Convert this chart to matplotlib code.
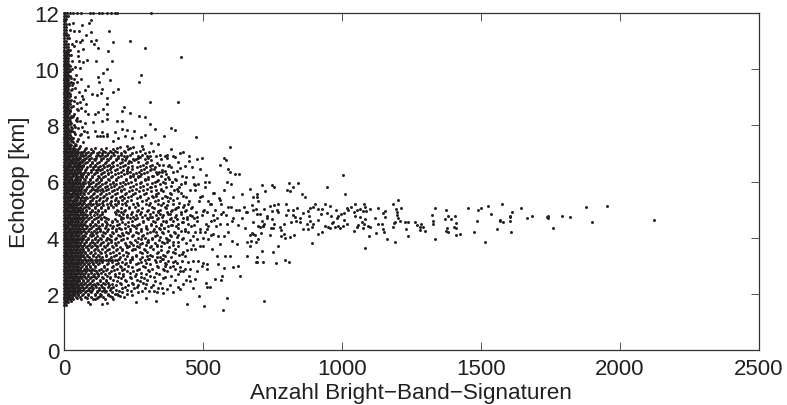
"""Echotop gegen Anzahl der Bright-Band-Signaturen (Streudiagramm)."""

import matplotlib

matplotlib.use("Agg")
import matplotlib.pyplot as plt

plt.rcParams["font.family"] = ["Liberation Sans", "DejaVu Sans"]

# Punkte ausserhalb der dichten Wolke: (Anzahl, Echotop)
tail_points = [
    (2124, 4.64), (1954, 5.14), (1900, 4.55), (1878, 5.09), (1822, 4.74), (1792, 4.78), (1760, 4.33),
    (1742, 4.78), (1738, 4.72), (1742, 4.69), (1684, 4.78), (1668, 4.69), (1646, 5.05), (1613, 4.9),
    (1604, 4.78), (1606, 4.72), (1605, 4.58), (1610, 4.19), (1580, 4.55), (1578, 5.19), (1570, 4.6),
    (1537, 4.83), (1568, 4.64), (1559, 4.3), (1526, 5.14), (1502, 5.04), (1490, 5.0), (1454, 5.04),
    (1487, 4.59), (1477, 4.19), (1514, 3.85), (1424, 4.14), (1411, 4.08), (1408, 4.78), (1384, 4.78),
    (1375, 5.0), (1394, 4.67), (1372, 4.65), (1410, 4.53), (1405, 4.39), (1410, 4.33), (1378, 4.36),
    (1376, 4.24), (1384, 4.19), (1335, 5.04), (1326, 4.8), (1330, 4.61), (1330, 4.49), (1335, 3.94),
    (1300, 4.24), (1294, 4.38), (1286, 4.5), (1282, 4.37), (1280, 4.29), (1270, 4.45), (1264, 4.55),
    (1238, 4.57), (1228, 4.55), (1231, 4.3), (1238, 4.05), (1210, 4.59), (1201, 5.34), (1186, 5.19),
    (1212, 5.04), (1196, 5.02), (1198, 4.9), (1200, 4.81), (1202, 4.69), (1192, 4.57), (1189, 4.52),
    (1184, 4.39), (1191, 3.85), (1162, 3.94), (1156, 4.95), (1148, 4.88), (1156, 4.74), (1144, 4.5),
    (1130, 4.5), (1147, 4.31), (1153, 4.19), (1120, 4.69), (1130, 5.04), (1103, 5.02), (1088, 4.96),
    (1081, 5.2), (1084, 5.1), (1078, 4.95), (1084, 4.67), (1072, 4.55), (1081, 4.49), (1096, 4.43),
    (1102, 4.39), (1123, 4.17), (1097, 4.05), (1084, 3.64), (1075, 4.36), (1060, 4.45), (1054, 4.37),
    (1043, 4.24), (1064, 4.74), (1065, 5.01), (1054, 5.0), (1046, 5.19), (1034, 5.09), (1045, 4.9),
    (1046, 4.78), (1018, 5.04), (1024, 4.99), (1010, 5.54), (1006, 6.24), (1009, 4.87), (998, 4.83),
    (979, 5.0), (988, 4.78), (982, 4.69), (1007, 4.64), (1018, 4.5), (1004, 4.43), (994, 4.34),
    (985, 4.42), (976, 4.37), (970, 4.55), (964, 4.51), (961, 4.78), (946, 4.88), (958, 5.14),
    (940, 5.19), (947, 5.79), (927, 5.02), (916, 5.02), (925, 4.84), (916, 4.64), (940, 4.43),
    (952, 4.37), (958, 4.33), (928, 4.19), (916, 4.14), (902, 5.19), (896, 5.1), (884, 5.04),
    (880, 4.96), (862, 4.88), (883, 4.78), (886, 4.59), (874, 4.49), (898, 4.49), (892, 4.37),
    (880, 4.31), (862, 4.31), (892, 3.8), (869, 5.44), (855, 5.54), (842, 5.95), (826, 5.79),
    (814, 5.65), (809, 5.95), (802, 5.7), (800, 5.19), (838, 5.04), (824, 5.0), (808, 5.0),
    (798, 4.81), (826, 4.81), (832, 4.72), (848, 4.69), (850, 4.55), (834, 4.61), (816, 4.57),
    (792, 4.49), (778, 4.37), (780, 4.29), (792, 4.13), (797, 4.0), (812, 4.04), (828, 4.1),
    (782, 4.05), (771, 3.69), (770, 5.19), (756, 5.16), (742, 5.14), (766, 5.0), (770, 4.9),
    (748, 4.95), (720, 5.02), (732, 4.78), (748, 4.67), (730, 4.69), (712, 4.58), (720, 4.49),
    (756, 4.49), (744, 4.34), (754, 4.34), (740, 4.08), (716, 4.43), (700, 4.43), (706, 4.37),
    (718, 4.4), (696, 4.84), (692, 5.02), (706, 4.84), (680, 5.0), (682, 4.55), (756, 5.79),
    (747, 5.89), (712, 5.89), (722, 5.65), (670, 5.73), (694, 5.54), (696, 5.46), (698, 5.29),
    (680, 5.44), (676, 5.16), (670, 4.1), (682, 4.13), (676, 4.17), (688, 4.08), (708, 4.15),
    (699, 3.94), (692, 3.86), (674, 3.89), (670, 3.69), (714, 3.51), (752, 3.49), (694, 3.3),
    (692, 3.15), (718, 3.15), (764, 3.09), (794, 3.19), (810, 3.15), (720, 1.73),
]

# Oberer Bereich und Ausreisser: (Anzahl, Echotop)
upper_points = [
    (10, 12), (22, 12), (34, 12), (48, 12), (61, 12), (94, 12), (103, 12), (126, 12), (136, 12),
    (154, 12), (168, 12), (184, 12), (190, 12), (313, 12), (98, 11.75), (91, 11.63), (66, 11.59),
    (31, 11.63), (54, 11.37), (36, 11.35), (163, 11.35), (79, 11.23), (96, 11.34), (239, 10.99),
    (293, 10.74), (421, 10.45), (175, 10.96), (115, 11.05), (98, 10.99), (108, 10.9), (124, 10.74),
    (160, 10.64), (64, 11.05), (58, 10.96), (43, 11.02), (70, 10.72), (52, 10.66), (36, 10.84),
    (174, 10.3), (115, 10.3), (84, 10.34), (70, 10.24), (52, 10.46), (55, 10.3), (40, 10.07),
    (58, 10.04), (154, 10.0), (139, 9.86), (124, 9.71), (125, 9.56), (166, 9.6), (276, 9.79),
    (269, 9.54), (196, 9.3), (175, 9.2), (136, 9.3), (88, 9.39), (76, 9.27), (100, 9.12), (118, 9.09),
    (132, 9.15), (154, 8.96), (64, 9.06), (70, 8.94), (61, 9.65), (48, 9.53), (36, 9.65), (28, 9.44),
    (40, 9.32), (58, 8.82), (79, 8.76), (46, 8.58), (76, 8.52), (88, 8.4), (48, 8.25), (154, 8.76),
    (142, 8.58), (156, 8.4), (124, 8.46), (112, 8.4), (215, 8.64), (210, 8.5), (238, 8.43), (311, 8.84),
    (411, 8.84), (271, 8.35), (290, 8.29), (210, 8.17), (190, 8.14), (156, 8.23), (136, 8.17),
    (106, 8.11), (76, 8.08), (58, 8.17), (40, 7.93), (84, 7.75), (112, 7.81), (136, 7.78), (154, 7.69),
    (184, 7.75), (208, 7.87), (228, 7.85), (253, 7.79), (309, 8.04), (327, 7.87), (385, 7.89), (401, 7.83),
    (474, 7.6), (360, 7.61), (293, 7.66), (276, 7.59), (244, 7.54), (220, 7.63), (196, 7.54), (178, 7.45),
    (130, 7.61), (118, 7.61), (142, 7.61), (156, 7.61), (596, 7.24), (384, 7.16), (340, 7.34), (312, 7.37),
    (280, 7.28), (250, 7.22), (226, 7.28), (430, 7.04), (449, 6.9), (495, 6.83), (480, 6.8), (576, 6.85),
    (584, 6.75), (560, 6.6), (592, 6.45), (598, 6.35), (617, 6.26), (629, 6.26), (510, 6.24), (490, 6.45),
    (460, 6.53), (437, 6.54), (418, 6.47), (451, 6.74), (400, 6.86), (358, 6.59), (342, 6.6), (328, 6.51),
    (394, 6.92), (370, 6.95), (343, 6.35), (331, 6.35), (312, 6.45), (394, 6.33), (406, 6.38), (364, 6.36),
    (310, 6.92), (298, 6.9), (274, 6.86), (268, 6.68), (250, 6.8), (235, 6.74), (216, 6.92), (202, 7.22),
    (184, 7.1), (244, 6.45), (226, 6.39), (247, 6.21), (274, 6.21), (304, 6.09), (316, 6.21), (334, 6.03),
    (358, 5.97), (388, 5.99), (400, 6.09), (440, 6.15), (466, 6.15), (472, 5.89), (484, 5.91), (508, 6.0),
    (523, 6.0), (586, 6.0),
]

# Unterer und mittlerer Bereich: (Anzahl, Echotop)
lower_points = [
    (574, 1.44), (504, 1.58), (444, 1.64), (588, 1.84), (486, 1.94), (331, 1.76), (295, 1.84), (258, 1.72),
    (94, 1.64), (136, 1.64), (154, 1.67), (524, 2.24), (514, 2.24), (510, 2.39), (466, 2.2), (418, 2.17),
    (394, 2.08), (358, 2.03), (334, 2.05), (370, 2.17), (352, 2.2), (324, 2.11), (280, 2.11), (268, 2.05),
    (244, 1.96), (202, 1.93), (190, 1.99), (166, 1.91), (130, 1.93), (112, 1.82), (430, 2.35), (412, 2.23),
    (472, 2.53), (454, 2.47), (450, 2.62), (544, 2.53), (568, 2.65), (564, 2.5), (632, 2.62), (610, 2.94),
    (628, 2.98), (576, 2.91), (556, 3.06), (598, 3.34), (580, 3.34), (550, 3.34), (532, 3.6), (514, 2.89),
    (516, 3.06), (502, 3.1), (484, 3.18), (464, 3.18), (448, 3.15), (424, 3.18), (436, 3.34), (442, 3.56),
    (456, 3.6), (424, 3.42), (400, 3.18), (436, 2.89), (418, 2.83), (400, 2.89), (382, 2.94), (364, 2.98),
    (346, 3.18), (334, 3.3), (316, 3.34), (304, 3.24), (394, 3.48), (376, 3.54), (358, 3.24), (376, 3.18),
    (274, 3.24), (244, 3.24), (220, 3.24), (658, 3.34), (694, 3.15), (658, 3.86), (622, 3.78), (604, 3.89),
    (562, 3.78), (556, 4.07), (520, 3.95), (538, 4.13), (514, 4.31), (490, 4.19), (466, 4.07), (448, 4.19),
    (424, 3.95), (406, 4.01), (394, 3.84), (370, 3.84), (346, 4.01), (334, 3.72), (298, 3.84), (274, 3.78),
    (250, 3.6), (226, 3.66), (358, 4.61), (382, 4.84), (400, 5.02), (424, 4.55), (442, 4.67), (460, 4.78),
    (480, 4.72), (500, 4.95), (520, 4.4), (540, 4.62), (565, 4.85), (585, 4.5), (610, 4.7), (630, 5.0),
    (650, 4.35), (655, 4.9), (600, 5.1), (560, 5.35), (525, 5.2), (490, 5.45), (450, 5.3), (420, 5.6),
    (380, 5.4), (350, 5.7), (540, 5.6), (575, 5.7), (610, 5.45), (640, 5.55), (470, 5.7), (430, 5.1),
    (310, 5.8), (330, 5.5), (370, 5.15), (300, 4.3), (330, 4.2), (360, 4.35), (390, 4.45), (420, 4.25),
    (310, 4.75), (340, 4.9), (480, 3.95), (590, 4.2), (625, 4.45), (575, 4.05), (500, 3.7), (465, 3.75),
]

band_y = [
    1.6, 1.7, 1.8, 1.9, 2.0, 2.1, 2.2, 2.3, 2.4, 2.5, 2.6, 2.7, 2.8, 2.9, 3.0, 3.1, 3.2, 3.3, 3.4,
    3.5, 3.6, 3.7, 3.8, 3.9, 4.0, 4.1, 4.2, 4.3, 4.4, 4.5, 4.6, 4.7, 4.8, 4.9, 5.0, 5.1, 5.2, 5.3,
    5.4, 5.5, 5.6, 5.7, 5.8, 5.9, 6.0, 6.1, 6.2, 6.3, 6.4, 6.5, 6.6, 6.7, 6.8, 6.9, 7.0, 7.1, 7.2,
]
band_x = [
    [1, 7],
    [1, 8, 15, 88],
    [0, 7, 14, 22, 31, 62, 104, 148, 178],
    [1, 8, 15, 23, 30, 44, 57, 76, 96, 122, 141, 171, 215],
    [0, 7, 14, 22, 31, 38, 52, 68, 85, 110, 128, 160, 183, 226],
    [1, 9, 16, 24, 33, 41, 49, 60, 79, 93, 117, 136, 152, 197, 240, 305],
    [0, 7, 15, 23, 32, 40, 50, 58, 72, 89, 105, 126, 145, 170, 208, 252, 290, 340],
    [1, 8, 17, 26, 34, 43, 52, 66, 81, 99, 112, 134, 163, 186, 230, 268, 320, 380],
    [0, 9, 16, 25, 33, 42, 48, 61, 74, 92, 118, 141, 158, 201, 243, 285, 347],
    [1, 7, 18, 27, 35, 46, 55, 70, 85, 103, 129, 150, 178, 220, 262, 300, 398, 440],
    [0, 8, 16, 24, 34, 44, 51, 64, 77, 96, 110, 137, 166, 194, 238, 276, 325, 362],
    [1, 9, 17, 26, 36, 43, 57, 68, 88, 108, 124, 147, 184, 212, 258, 295, 342, 410],
    [0, 7, 15, 25, 32, 45, 53, 63, 80, 97, 116, 139, 170, 228, 248, 306, 372, 430, 478],
    [1, 8, 18, 27, 37, 47, 56, 71, 84, 101, 132, 155, 190, 216, 270, 318, 355, 452],
    [0, 9, 16, 23, 34, 41, 52, 66, 78, 94, 113, 143, 175, 203, 232, 284, 335, 392, 495],
    [1, 7, 17, 28, 38, 46, 58, 69, 90, 106, 127, 160, 196, 222, 266, 296, 365, 405],
    [0, 8, 15, 24, 33, 44, 54, 62, 70, 78, 86, 94, 102, 110, 118, 126, 134, 142, 150, 158, 166, 174, 182, 190, 236, 290, 328],
    [1, 9, 18, 27, 35, 48, 59, 73, 91, 115, 138, 168, 200, 246, 282, 344, 385],
    [0, 7, 16, 26, 36, 45, 56, 67, 83, 104, 122, 152, 186, 214, 260, 310, 356, 415],
    [1, 8, 17, 24, 34, 43, 53, 64, 75, 98, 130, 148, 176, 224, 272, 298, 338, 372, 430],
    [0, 9, 15, 25, 37, 47, 58, 70, 87, 111, 135, 163, 192, 208, 254, 288, 322, 400, 470],
    [1, 7, 18, 28, 33, 42, 54, 63, 81, 100, 120, 145, 172, 234, 264, 312, 350, 410, 488],
    [0, 8, 16, 23, 35, 46, 57, 72, 93, 108, 133, 158, 182, 218, 242, 280, 326, 360, 440],
    [1, 9, 17, 27, 36, 44, 52, 65, 79, 102, 124, 150, 170, 204, 256, 302, 342, 378, 455],
    [0, 7, 15, 26, 34, 48, 59, 68, 86, 112, 128, 154, 188, 228, 268, 290, 318, 366, 430, 500],
    [1, 8, 18, 24, 32, 43, 55, 71, 92, 106, 136, 164, 196, 212, 248, 284, 336, 382, 412, 530],
    [0, 9, 16, 28, 38, 47, 53, 62, 76, 97, 118, 142, 174, 222, 260, 308, 352, 396, 470, 508],
    [1, 7, 17, 25, 35, 45, 58, 73, 89, 114, 131, 160, 186, 206, 238, 276, 324, 344, 436, 490],
    [0, 8, 15, 27, 33, 42, 54, 66, 82, 104, 126, 152, 178, 232, 252, 296, 330, 374, 402, 458, 548],
    [1, 9, 18, 24, 37, 46, 56, 69, 95, 110, 138, 156, 198, 218, 270, 312, 348, 410, 446, 512, 560],
    [0, 7, 16, 26, 34, 44, 52, 64, 78, 100, 122, 146, 172, 190, 244, 286, 320, 366, 392, 480, 528, 605],
    [1, 8, 17, 28, 36, 48, 59, 72, 90, 116, 134, 150, 212, 236, 264, 300, 338, 384, 430, 468, 552, 640],
    [0, 9, 15, 23, 33, 43, 55, 67, 84, 108, 128, 198, 226, 258, 292, 332, 356, 404, 452, 496, 536, 584],
    [1, 7, 18, 25, 35, 47, 57, 70, 94, 112, 136, 182, 204, 246, 278, 322, 370, 420, 476, 516, 572, 660],
    [0, 8, 16, 27, 37, 45, 53, 63, 80, 102, 124, 148, 190, 220, 268, 304, 346, 388, 438, 504, 544, 618],
    [1, 9, 17, 24, 32, 42, 58, 74, 88, 110, 132, 160, 176, 234, 256, 316, 362, 412, 462, 590, 648],
    [0, 7, 15, 26, 36, 46, 54, 65, 86, 106, 126, 154, 184, 208, 250, 294, 340, 394, 448, 530, 566],
    [1, 8, 18, 28, 34, 44, 56, 68, 92, 116, 140, 170, 196, 228, 282, 328, 376, 486, 520],
    [0, 9, 16, 23, 38, 47, 59, 71, 83, 104, 130, 156, 188, 216, 262, 302, 352, 408, 558],
    [1, 7, 17, 25, 33, 43, 52, 66, 96, 120, 144, 174, 210, 240, 274, 318, 364, 428, 498],
    [0, 8, 15, 27, 35, 45, 57, 69, 85, 108, 134, 162, 192, 222, 256, 296, 338, 382, 536],
    [1, 9, 18, 24, 37, 48, 55, 73, 98, 112, 128, 150, 180, 204, 246, 286, 332, 396, 452],
    [0, 7, 16, 26, 32, 42, 53, 64, 82, 102, 122, 146, 170, 198, 236, 272, 314, 368, 414, 506],
    [1, 8, 17, 28, 36, 46, 58, 70, 90, 114, 138, 166, 188, 218, 260, 300, 346, 422, 468, 602],
    [0, 9, 15, 23, 34, 44, 54, 67, 86, 106, 126, 152, 178, 212, 242, 278, 326, 388, 436],
    [1, 7, 18, 25, 38, 47, 59, 72, 94, 118, 132, 160, 186, 224, 254, 292, 362, 378],
    [0, 8, 16, 27, 33, 43, 56, 65, 80, 100, 124, 148, 172, 206, 238, 266, 322, 350, 426],
    [1, 9, 17, 24, 35, 45, 52, 68, 88, 110, 136, 158, 194, 228, 258, 288, 338],
    [0, 7, 15, 26, 37, 48, 57, 74, 96, 116, 130, 154, 182, 214, 276, 308, 352],
    [1, 8, 18, 28, 32, 42, 55, 63, 84, 104, 122, 144, 168, 200, 232, 262, 296, 386],
    [0, 9, 16, 23, 36, 46, 53, 70, 92, 112, 140, 162, 190, 220, 284, 318, 378],
    [1, 7, 17, 25, 34, 44, 58, 66, 82, 102, 126, 150, 176, 208, 240, 300, 412],
    [0, 8, 15, 27, 38, 47, 54, 72, 90, 108, 134, 156, 186, 210, 258, 290, 350],
    [1, 9, 18, 24, 33, 43, 59, 68, 86, 114, 128, 146, 170, 196, 228, 268, 330, 362],
    [0, 7, 16, 26, 35, 45, 56, 64, 78, 98, 118, 138, 158, 178, 206, 244, 292, 416],
    [1, 8, 17, 28, 37, 48, 71, 106, 142, 166, 216, 272, 322],
    [0, 9, 15, 23, 32, 55, 80, 112, 150, 190, 236],
]

# Zwischenzeilen der Wolke, fuellen die Luecken zwischen den Zeilen oben
band2_y = [
    1.65, 1.75, 1.85, 1.95, 2.05, 2.15, 2.25, 2.35, 2.45, 2.55, 2.65, 2.75, 2.85, 2.95, 3.05, 3.15, 3.25, 3.35, 3.45,
    3.55, 3.65, 3.75, 3.85, 3.95, 4.05, 4.15, 4.25, 4.35, 4.45, 4.55, 4.65, 4.75, 4.85, 4.95, 5.05, 5.15, 5.25, 5.35,
    5.45, 5.55, 5.65, 5.75, 5.85, 5.95, 6.05, 6.15, 6.25, 6.35, 6.45, 6.55, 6.65, 6.75, 6.85, 6.95, 7.05, 7.15,
]
band2_x = [
    [4],
    [4, 11, 24],
    [4, 11, 18, 27, 46, 82, 120],
    [4, 11, 19, 27, 36, 49, 66, 88, 112, 134, 158, 196],
    [4, 11, 19, 27, 35, 45, 56, 74, 98, 119, 146, 172, 210],
    [4, 12, 20, 28, 37, 46, 54, 67, 86, 102, 125, 144, 166, 188, 228],
    [4, 11, 19, 29, 36, 45, 55, 65, 80, 97, 116, 136, 158, 178, 218, 262, 312],
    [5, 12, 21, 30, 39, 48, 58, 72, 91, 108, 124, 148, 172, 206, 248, 296],
    [3, 12, 20, 29, 38, 47, 55, 68, 83, 101, 129, 150, 190, 222, 274, 328],
    [4, 11, 22, 31, 40, 50, 60, 78, 94, 115, 139, 164, 204, 240, 288, 356],
    [5, 12, 20, 29, 39, 47, 58, 71, 87, 105, 122, 154, 182, 214, 256, 310, 386],
    [3, 13, 21, 31, 40, 50, 62, 76, 98, 118, 133, 162, 198, 236, 278, 332],
    [4, 11, 20, 29, 38, 49, 59, 72, 90, 107, 126, 152, 180, 210, 264, 302, 360],
    [5, 12, 22, 32, 42, 51, 61, 78, 93, 112, 144, 172, 206, 244, 290, 340, 418],
    [3, 13, 20, 30, 38, 47, 57, 72, 86, 103, 123, 156, 188, 218, 258, 310, 368],
    [4, 12, 21, 32, 43, 51, 63, 80, 100, 116, 138, 172, 210, 238, 276, 330, 392],
    [5, 11, 20, 28, 39, 49, 58, 74, 96, 130, 162, 198, 246, 306, 352],
    [3, 13, 22, 31, 40, 52, 64, 82, 103, 126, 150, 180, 226, 258, 298, 364],
    [4, 11, 21, 30, 41, 50, 61, 76, 93, 113, 132, 166, 198, 232, 280, 334, 398],
    [5, 12, 20, 29, 38, 48, 58, 70, 86, 108, 124, 156, 186, 210, 244, 292, 350],
    [3, 13, 22, 32, 42, 52, 63, 78, 96, 120, 146, 176, 202, 226, 270, 310, 378],
    [4, 11, 21, 30, 38, 47, 59, 72, 90, 110, 130, 154, 186, 222, 250, 296, 336, 392],
    [5, 12, 20, 28, 40, 51, 62, 80, 100, 118, 142, 168, 196, 236, 262, 302, 354, 412],
    [3, 13, 22, 31, 39, 48, 58, 70, 88, 112, 134, 162, 184, 214, 278, 316, 372],
    [4, 11, 20, 30, 40, 52, 64, 76, 96, 120, 140, 170, 202, 244, 282, 326, 384],
    [5, 12, 21, 28, 38, 47, 60, 78, 100, 116, 148, 178, 208, 232, 268, 300, 356, 398],
    [3, 13, 20, 32, 42, 51, 58, 70, 86, 108, 130, 156, 186, 236, 276, 322, 376, 436],
    [4, 11, 21, 29, 39, 49, 63, 80, 98, 122, 146, 172, 198, 220, 258, 294, 342, 360, 410],
    [5, 12, 19, 31, 38, 47, 59, 74, 92, 114, 136, 164, 190, 246, 264, 314, 350, 384, 468],
    [3, 13, 22, 28, 41, 50, 61, 76, 102, 122, 150, 172, 208, 232, 284, 328, 368, 428],
    [4, 11, 20, 30, 39, 48, 57, 70, 86, 108, 132, 158, 184, 204, 256, 304, 336, 380, 408],
    [5, 12, 21, 32, 40, 52, 64, 80, 98, 124, 144, 204, 226, 250, 280, 316, 352, 398, 444],
    [3, 13, 19, 28, 38, 48, 60, 74, 92, 118, 138, 188, 214, 240, 272, 310, 344, 376, 420],
    [4, 11, 22, 29, 40, 52, 62, 78, 102, 122, 146, 194, 216, 262, 298, 340, 386, 434],
    [5, 12, 20, 31, 41, 49, 58, 70, 90, 112, 134, 158, 204, 234, 282, 324, 366, 402, 456],
    [3, 13, 21, 28, 37, 47, 63, 80, 96, 120, 142, 168, 188, 222, 268, 306, 348, 432],
    [4, 11, 19, 30, 40, 50, 59, 72, 94, 116, 136, 164, 196, 220, 264, 308, 356, 414],
    [5, 12, 22, 32, 39, 48, 61, 76, 100, 126, 150, 182, 208, 242, 294, 340, 392],
    [3, 13, 20, 28, 42, 52, 64, 78, 92, 114, 140, 168, 200, 230, 274, 320, 370, 440],
    [4, 11, 21, 29, 38, 47, 57, 72, 104, 128, 152, 184, 220, 250, 288, 330, 384],
    [5, 12, 19, 31, 39, 49, 62, 76, 94, 118, 142, 172, 204, 234, 270, 312, 358, 410],
    [3, 13, 22, 28, 41, 52, 60, 80, 104, 120, 136, 160, 190, 216, 258, 298, 348, 408],
    [4, 11, 20, 30, 37, 46, 58, 70, 90, 110, 130, 156, 180, 210, 248, 284, 328, 386],
    [5, 12, 21, 32, 40, 50, 63, 76, 98, 122, 146, 176, 200, 230, 272, 316, 362, 436],
    [3, 13, 19, 28, 39, 48, 59, 74, 94, 114, 134, 162, 188, 224, 254, 292, 340, 402],
    [4, 11, 22, 29, 42, 51, 64, 78, 102, 126, 140, 170, 196, 236, 266, 304, 374],
    [5, 12, 20, 31, 38, 47, 61, 70, 88, 108, 132, 158, 182, 216, 250, 278, 336, 368],
    [3, 13, 21, 28, 40, 50, 57, 74, 96, 118, 144, 168, 204, 238, 270, 300, 354],
    [4, 11, 19, 30, 42, 52, 62, 80, 104, 124, 138, 164, 192, 226, 288, 324],
    [5, 12, 22, 32, 37, 47, 60, 68, 92, 112, 130, 154, 178, 212, 244, 274, 310, 376],
    [3, 13, 20, 28, 41, 51, 58, 76, 100, 120, 148, 172, 200, 230, 296, 336],
    [4, 11, 21, 29, 39, 49, 63, 72, 90, 110, 134, 160, 186, 218, 252, 312],
    [5, 12, 19, 31, 42, 52, 59, 78, 98, 116, 142, 166, 194, 222, 266, 304, 372],
    [3, 13, 22, 28, 38, 47, 64, 74, 94, 122, 136, 154, 180, 204, 238, 282, 346],
    [4, 11, 20, 30, 40, 50, 61, 70, 86, 106, 126, 148, 168, 190, 220, 258, 306],
    [5, 12, 21, 32, 41, 52, 76, 96, 132, 176, 230, 286],
]

# Schmale Saeule am linken Rand oberhalb der Wolke
wall_y = [
    7.3, 7.4, 7.5, 7.6, 7.7, 7.8, 7.9, 8.0, 8.1, 8.2, 8.3, 8.4, 8.5, 8.6, 8.7, 8.8, 8.9, 9.0, 9.1, 9.2,
    9.3, 9.4, 9.5, 9.6, 9.7, 9.8, 9.9, 10.0, 10.1, 10.2, 10.3, 10.4, 10.5, 10.6, 10.7, 10.8, 10.9, 11.0,
    11.1, 11.2, 11.3, 11.4, 11.5, 11.6, 11.7, 11.8, 11.9, 12.0,
]
wall_x = [
    [1, 8, 16, 25, 44], [0, 7, 14, 33, 68], [1, 9, 18, 29, 52], [0, 6, 15, 24, 87], [1, 8, 13, 38, 60],
    [0, 7, 17, 30, 72], [1, 9, 14, 27, 49], [0, 6, 16, 35], [1, 8, 13, 24], [0, 7, 18, 42],
    [1, 9, 15, 28], [0, 6, 14, 36], [1, 8, 17, 23], [0, 7, 13, 62], [1, 9, 16, 31],
    [0, 6, 15, 47], [1, 8, 14, 26], [0, 7, 18, 39], [1, 9, 13, 22], [0, 6, 16, 54],
    [1, 8, 15, 29], [0, 7, 14], [1, 9, 17, 33], [0, 6, 13], [1, 8, 16, 24],
    [0, 7, 15, 44], [1, 9, 14], [0, 6, 17, 27], [1, 8, 13, 20], [0, 7, 16],
    [1, 9, 15, 30], [0, 6, 14], [1, 8, 18, 26], [0, 7, 13], [1, 9, 16, 22],
    [0, 6, 15], [1, 8, 14, 28], [0, 7], [1, 9, 19], [0, 6, 13],
    [1, 8], [0, 7, 22], [1, 6], [0, 8, 17], [1, 5], [0, 7], [1, 6, 14], [0, 4],
]

# Zwischenzeilen der Saeule
wall2_y = [
    7.25, 7.35, 7.45, 7.55, 7.65, 7.75, 7.85, 7.95, 8.05, 8.15, 8.25, 8.35, 8.45, 8.55, 8.65, 8.75, 8.85, 8.95,
    9.05, 9.15, 9.25, 9.35, 9.45, 9.55, 9.65, 9.75, 9.85, 9.95, 10.05, 10.15, 10.25, 10.35, 10.45, 10.55,
]
wall2_x = [
    [4, 12, 22, 36, 58], [3, 11, 20, 41], [4, 12, 24, 48], [3, 10, 19, 34], [4, 12, 21, 56],
    [3, 11, 23, 37], [4, 10, 20], [3, 12, 26, 64], [4, 11, 19], [3, 10, 22, 45],
    [4, 12, 20], [3, 11, 25, 33], [4, 10, 19], [3, 12, 21, 51], [4, 11, 24],
    [3, 10, 20], [4, 12, 23, 35], [3, 11], [4, 10, 21], [3, 12, 18],
    [4, 11, 25], [3, 10], [4, 12, 19], [3, 11, 26], [4, 10],
    [3, 12, 20], [4, 11], [3, 10, 23], [4, 12], [3, 11, 18],
    [4, 10], [3, 12], [4, 11], [3, 10],
]

x_ticks = [0, 500, 1000, 1500, 2000, 2500]
y_ticks = [0, 2, 4, 6, 8, 10, 12]

xs = []
ys = []
for pts in (tail_points, upper_points, lower_points):
    for px, py in pts:
        xs.append(px)
        ys.append(py)
for rows_y, rows_x in ((band_y, band_x), (band2_y, band2_x), (wall_y, wall_x), (wall2_y, wall2_x)):
    for row_y, row in zip(rows_y, rows_x):
        for px in row:
            xs.append(px)
            ys.append(row_y)

fig = plt.figure(figsize=(7.87, 4.06), dpi=100)
ax = fig.add_axes([64 / 787, 1 - 351 / 406, 694.5 / 787, 337 / 406])

ax.plot(xs, ys, "o", ms=2.15, mew=0, color="#231f20", clip_on=False, zorder=3)

ax.set_xlim(0, 2500)
ax.set_ylim(0, 12)
ax.set_xticks(x_ticks)
ax.set_yticks(y_ticks)
ax.tick_params(direction="in", top=True, right=True, length=6, width=0.7,
               color="#555555", labelsize=16, labelcolor="#231f20")
ax.tick_params(axis="x", pad=6)
ax.tick_params(axis="y", pad=3.5)
for spine in ax.spines.values():
    spine.set_linewidth(0.9)
    spine.set_color("#333333")

ax.set_xlabel("Anzahl Bright\u2212Band\u2212Signaturen", fontsize=16.2, color="#231f20", labelpad=2)
ax.set_ylabel("Echotop [km]", fontsize=16.2, color="#231f20", labelpad=3)

plt.savefig("out.png", dpi=100, facecolor="white")
